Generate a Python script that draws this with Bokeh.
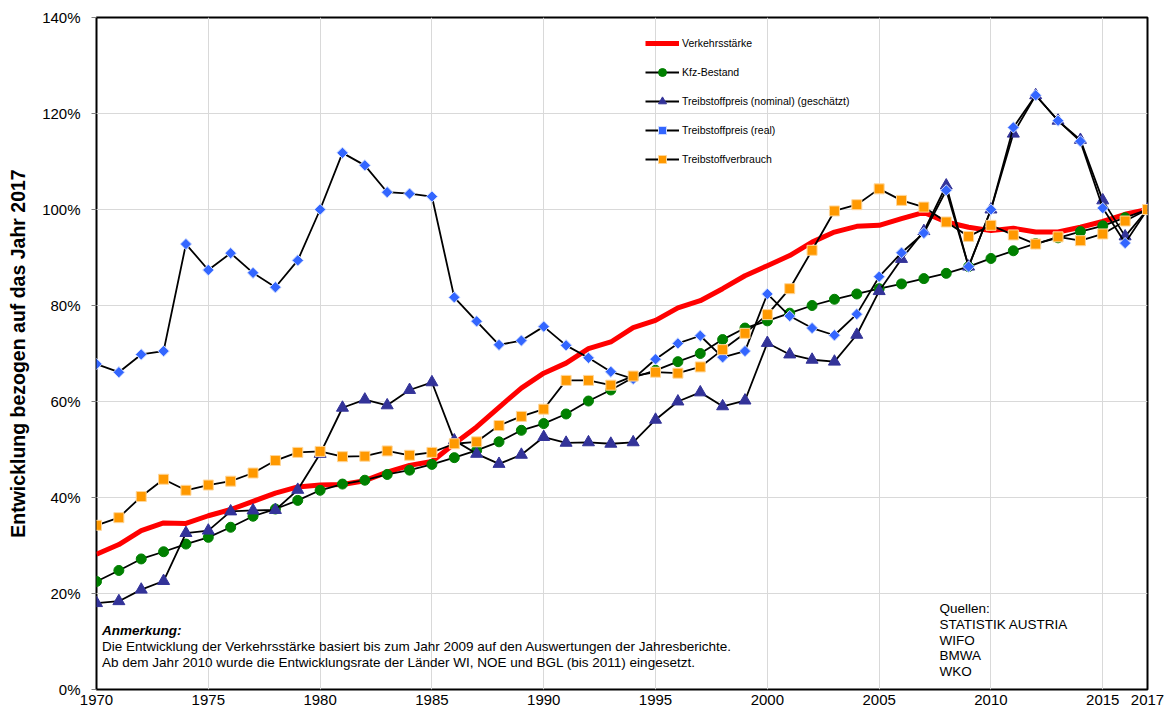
import numpy as np
from bokeh.plotting import figure
from bokeh.models import (Range1d, FixedTicker, PrintfTickFormatter, Legend, LegendItem, Label)
from bokeh.embed import file_html
from bokeh.resources import INLINE

years = list(range(1970, 2018))

verkehrsstaerke = [28.2, 30.2, 33.1, 34.7, 34.6, 36.2, 37.5, 39.2, 40.9, 42.2,
                   42.6, 42.7, 43.5, 45.3, 46.7, 47.5, 51.2, 54.7, 58.8, 62.8,
                   65.9, 68.0, 71.0, 72.4, 75.4, 76.9, 79.5, 81.0, 83.5, 86.2,
                   88.3, 90.4, 93.2, 95.3, 96.5, 96.7, 98.1, 99.4, 97.4, 96.3,
                   95.6, 96.1, 95.3, 95.3, 96.3, 97.5, 99.0, 100.0]

kfz_bestand = [22.5, 24.8, 27.2, 28.7, 30.3, 31.7, 33.8, 36.1, 37.6, 39.4,
               41.5, 42.8, 43.6, 44.8, 45.7, 46.9, 48.3, 49.8, 51.6, 54.0,
               55.4, 57.4, 60.1, 62.4, 65.0, 66.5, 68.3, 70.0, 72.9, 75.3,
               76.8, 78.4, 80.0, 81.3, 82.4, 83.5, 84.5, 85.6, 86.7, 88.1,
               89.8, 91.4, 92.9, 94.1, 95.4, 96.6, 98.3, 100.0]

preis_nominal = [18.0, 18.4, 20.8, 22.6, 32.6, 33.1, 37.1, 37.3, 37.4, 41.6,
                 49.1, 58.7, 60.4, 59.2, 62.4, 64.0, 51.9, 49.1, 47.0, 48.9,
                 52.6, 51.4, 51.5, 51.2, 51.5, 56.2, 60.0, 61.9, 59.0, 60.2,
                 72.2, 69.8, 68.7, 68.3, 73.9, 83.0, 89.7, 95.5, 105.0, 88.1,
                 100.0, 115.8, 123.8, 118.5, 114.5, 101.9, 94.4, 100.0]

preis_real = [67.8, 66.1, 69.8, 70.5, 92.8, 87.4, 90.9, 86.8, 83.8, 89.4,
              100.0, 111.8, 109.2, 103.6, 103.3, 102.7, 81.7, 76.7, 71.8, 72.7,
              75.6, 71.7, 69.1, 66.2, 64.7, 68.8, 72.1, 73.7, 69.2, 70.5,
              82.4, 77.8, 75.3, 73.8, 78.2, 86.0, 91.0, 95.1, 104.0, 88.1,
              100.0, 117.1, 123.8, 118.5, 114.2, 100.3, 93.0, 100.0]

verbrauch = [34.2, 35.8, 40.2, 43.8, 41.5, 42.6, 43.4, 45.1, 47.7, 49.4,
             49.6, 48.5, 48.6, 49.7, 48.8, 49.4, 51.2, 51.6, 55.0, 56.9,
             58.4, 64.4, 64.4, 63.4, 65.3, 66.1, 65.9, 67.2, 70.8, 74.2,
             78.1, 83.5, 91.5, 99.7, 101.0, 104.3, 101.9, 100.5, 97.4, 94.4,
             96.7, 94.7, 92.8, 94.3, 93.5, 94.9, 97.6, 100.0]

x_ticks = [1970, 1975, 1980, 1985, 1990, 1995, 2000, 2005, 2010, 2015, 2017]
y_ticks = [0, 20, 40, 60, 80, 100, 120, 140]

labels = ["Verkehrsstärke", "Kfz-Bestand", "Treibstoffpreis (nominal) (geschätzt)",
          "Treibstoffpreis (real)", "Treibstoffverbrauch"]
y_title = "Entwicklung bezogen auf das Jahr 2017"

anmerkung_title = "Anmerkung:"
anmerkung_lines = ["Die Entwicklung der Verkehrsstärke basiert bis zum Jahr 2009 auf den Auswertungen der Jahresberichte.",
                   "Ab dem Jahr 2010 wurde die Entwicklungsrate der Länder WI, NOE und BGL (bis 2011) eingesetzt."]
quellen = ["Quellen:", "STATISTIK AUSTRIA", "WIFO", "BMWA", "WKO"]

FONT = "Liberation Sans"

p = figure(width=1165, height=710, output_backend="svg", toolbar_location=None,
           x_range=Range1d(1970, 2017), y_range=Range1d(0, 140),
           min_border_left=96, min_border_right=18, min_border_top=17, min_border_bottom=21)

p.outline_line_color = "black"
p.outline_line_width = 2
p.background_fill_color = "white"

# axes
p.xaxis.ticker = FixedTicker(ticks=x_ticks)
p.yaxis.ticker = FixedTicker(ticks=y_ticks)
p.yaxis.formatter = PrintfTickFormatter(format="%d%%")
for ax in (p.xaxis[0], p.yaxis[0]):
    ax.axis_line_color = None
    ax.minor_tick_line_color = None
    ax.major_label_text_font = FONT
    ax.major_label_text_font_size = "15px"
    ax.major_label_text_color = "black"
p.xaxis.major_tick_out = 0
p.xaxis.major_tick_in = 0
p.xaxis.major_label_standoff = 5
p.yaxis.major_tick_out = 5
p.yaxis.major_tick_in = 0
p.yaxis.major_tick_line_color = "#808080"
p.yaxis.major_label_standoff = 11
p.yaxis.axis_label = y_title
p.yaxis.axis_label_text_font = FONT
p.yaxis.axis_label_text_font_style = "bold"
p.yaxis.axis_label_text_font_size = "19.5px"
p.yaxis.axis_label_text_color = "black"
p.yaxis.axis_label_standoff = 10

p.xgrid.ticker = FixedTicker(ticks=x_ticks[1:-1])
p.ygrid.ticker = FixedTicker(ticks=y_ticks[1:-1])
p.grid.grid_line_color = "#d9d9d9"
p.grid.grid_line_width = 1

# series
r_red = p.line(years, verkehrsstaerke, line_color="#ff0000", line_width=5, line_join="round")

l_kfz = p.line(years, kfz_bestand, line_color="black", line_width=1.8)
m_kfz = p.scatter(years, kfz_bestand, marker="circle", size=10, fill_color="#008000", line_color="#008000")

l_nom = p.line(years, preis_nominal, line_color="black", line_width=1.8)
m_nom = p.scatter(years, preis_nominal, marker="triangle", size=12, fill_color="#333399", line_color="#333399")

l_real = p.line(years, preis_real, line_color="black", line_width=1.8)
m_real = p.scatter(years, preis_real, marker="square", angle=np.pi / 4, size=8,
                   fill_color="#3366ff", line_color="#cfdcff", line_width=1)

l_verb = p.line(years, verbrauch, line_color="black", line_width=1.8)
m_verb = p.scatter(years, verbrauch, marker="square", size=10, fill_color="#ff9900", line_color="#ffd699", line_width=1)

legend = Legend(items=[
    LegendItem(label=labels[0], renderers=[r_red]),
    LegendItem(label=labels[1], renderers=[l_kfz, m_kfz]),
    LegendItem(label=labels[2], renderers=[l_nom, m_nom]),
    LegendItem(label=labels[3], renderers=[l_real, m_real]),
    LegendItem(label=labels[4], renderers=[l_verb, m_verb]),
], location=(549, 520))
legend.border_line_color = None
legend.background_fill_alpha = 0
legend.padding = 0
legend.margin = 0
legend.spacing = 9
legend.glyph_width = 34
legend.glyph_height = 20
legend.label_height = 20
legend.label_standoff = 3
legend.label_text_font = FONT
legend.label_text_font_size = "10.5px"
legend.label_text_color = "black"
p.add_layout(legend, "center")

# notes
p.add_layout(Label(x=1970.25, y=12.3, text=anmerkung_title, text_font=FONT, text_font_size="13.5px",
                   text_font_style="bold italic", text_baseline="middle", text_color="black"))
for i, line in enumerate(anmerkung_lines):
    p.add_layout(Label(x=1970.25, y=8.9 - i * 3.3, text=line, text_font=FONT, text_font_size="13.5px",
                       text_baseline="middle", text_color="black"))
for i, line in enumerate(quellen):
    p.add_layout(Label(x=2007.7, y=16.9 - i * 3.3, text=line, text_font=FONT, text_font_size="13.5px",
                       text_baseline="middle", text_color="black"))

open("out.html", "w").write(file_html(p, INLINE))
